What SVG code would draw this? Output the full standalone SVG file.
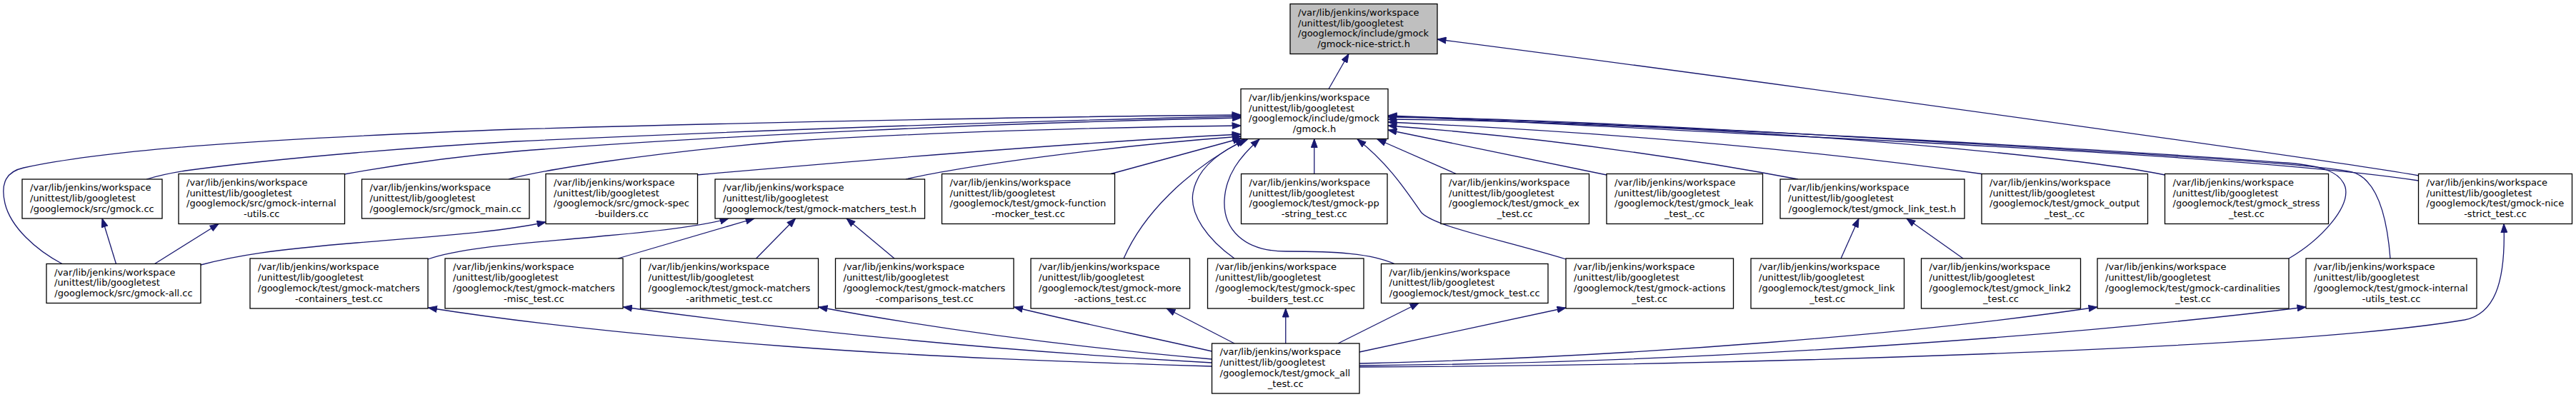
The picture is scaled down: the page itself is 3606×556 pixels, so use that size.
<svg xmlns="http://www.w3.org/2000/svg" width="3606" height="556" viewBox="0 0 3606 556">
<style>
.node rect{fill:#ffffff;stroke:#000000;stroke-width:1.3}
#n0 rect{fill:#bfbfbf}
.node text{font-family:"DejaVu Sans","Liberation Sans",sans-serif;font-size:13px;fill:#000000}
.m{text-anchor:middle}
.e path{fill:none;stroke:#191970;stroke-width:1.3;marker-end:url(#ah)}
</style>
<defs>
<marker id="ah" viewBox="0 0 13 10" refX="12.5" refY="5" markerWidth="13" markerHeight="10" markerUnits="userSpaceOnUse" orient="auto">
<path d="M0.5,0.6 L12.5,5 L0.5,9.4 Z" fill="#191970" stroke="#191970" stroke-width="1"/>
</marker>
</defs>
<rect width="3606" height="556" fill="#ffffff"/>
<g id="edges" class="e">
<path d="M1860,124.5 L1888,75.5"/>
<path d="M3386,246 C3300,230 2500,118 2012,55"/>
<path d="M1839.75,243.5 L1839.75,194.5"/>
<path d="M87,369.5 C50,350 15,318 7,285 C0,255 10,240 33,235 C150,210 350,195 722,181 C1100,170 1500,163 1737,161"/>
<path d="M205,251 C225,245 240,242 260,239 C400,220 600,205 722,198 C1000,185 1400,170 1737,163"/>
<path d="M482,244 C560,230 650,218 722,212 C1000,190 1400,172 1737,165"/>
<path d="M712,251 C760,238 900,215 1100,198 C1300,185 1550,178 1737,176"/>
<path d="M975,245 C1200,225 1500,200 1737,188"/>
<path d="M1268,251 C1350,232 1550,205 1737,191"/>
<path d="M1555,243.5 L1738,193.5"/>
<path d="M1573,362 C1600,300 1660,240 1742,195.5"/>
<path d="M1728,362 C1690,335 1665,300 1670,270 C1675,240 1700,215 1746,195.5"/>
<path d="M1952,369.5 C1920,355 1870,352 1800,352 C1740,352 1712,320 1714,280 C1716,245 1735,220 1763,195"/>
<path d="M2038.5,243.5 L1928,195"/>
<path d="M2192,363 C2100,335 2010,318 1990,298 C1970,270 1945,230 1900,195"/>
<path d="M2249,245 L1943,182"/>
<path d="M2517,251 C2300,210 2100,188 1943,176"/>
<path d="M2774,243.5 C2500,205 2200,183 1943,171"/>
<path d="M3030.5,245 C2950,228 2700,200 2400,183 C2200,172 2050,168 1943,167"/>
<path d="M3385.5,253 C3200,225 2800,205 2500,190 C2200,175 2050,166 1943,163"/>
<path d="M3204,362 C3250,335 3290,290 3283,262 C3276,240 3250,232 3200,228 C2900,205 2300,175 1943,162"/>
<path d="M3346,362 C3342,310 3330,255 3296,242 C3250,228 2900,210 2600,192 C2300,175 2100,165 1943,164"/>
<path d="M162.5,369.5 L143,306"/>
<path d="M216.5,369.5 L306,313.5"/>
<path d="M281,371 C330,358 380,350 500,340 C620,330 700,325 764,311"/>
<path d="M599,363 C650,345 750,340 850,330 C940,322 990,315 1020,306"/>
<path d="M865,362 L1056,306"/>
<path d="M1058.5,362 L1113.5,306"/>
<path d="M1252,362 L1185,306"/>
<path d="M2577,362 L2602,306"/>
<path d="M2748,362 L2669,306"/>
<path d="M1696.5,513 C1500,507 1300,500 1100,485 C900,470 720,450 599.5,431"/>
<path d="M1696.5,508 C1500,497 1200,475 872.5,430"/>
<path d="M1696.5,503 C1550,490 1350,468 1146,430"/>
<path d="M1696.5,492 C1600,470 1500,450 1419.5,430"/>
<path d="M1728,481 L1633,432"/>
<path d="M1799.75,481 L1799.75,432"/>
<path d="M1873,481 L1986,424.5"/>
<path d="M1903,493 L2192,431"/>
<path d="M1903,509 C2300,500 2700,465 2936,430"/>
<path d="M1903,512 C2400,508 2900,470 3228,430"/>
<path d="M1903,514 C2400,512 3200,490 3450,448 C3490,440 3508,400 3505,313.5"/>
</g>
<g id="n0" class="node"><rect x="1806" y="5.5" width="206" height="70"/><text><tspan x="1817" y="21.7">/var/lib/jenkins/workspace</tspan><tspan x="1817" y="36.6">/unittest/lib/googletest</tspan><tspan x="1817" y="51.4">/googlemock/include/gmock</tspan><tspan class="m" x="1909" y="66.3">/gmock-nice-strict.h</tspan></text></g>
<g id="n1" class="node"><rect x="1737" y="124.5" width="206" height="70"/><text><tspan x="1748" y="140.7">/var/lib/jenkins/workspace</tspan><tspan x="1748" y="155.6">/unittest/lib/googletest</tspan><tspan x="1748" y="170.4">/googlemock/include/gmock</tspan><tspan class="m" x="1840" y="185.3">/gmock.h</tspan></text></g>
<g id="n2" class="node"><rect x="31" y="251" width="196" height="55"/><text><tspan x="42" y="267">/var/lib/jenkins/workspace</tspan><tspan x="42" y="281.9">/unittest/lib/googletest</tspan><tspan class="m" x="129" y="296.8">/googlemock/src/gmock.cc</tspan></text></g>
<g id="n3" class="node"><rect x="250" y="243.5" width="232.5" height="70"/><text><tspan x="261" y="259.7">/var/lib/jenkins/workspace</tspan><tspan x="261" y="274.6">/unittest/lib/googletest</tspan><tspan x="261" y="289.4">/googlemock/src/gmock-internal</tspan><tspan class="m" x="366.25" y="304.3">-utils.cc</tspan></text></g>
<g id="n4" class="node"><rect x="506.5" y="251" width="234.5" height="55"/><text><tspan x="517.5" y="267">/var/lib/jenkins/workspace</tspan><tspan x="517.5" y="281.9">/unittest/lib/googletest</tspan><tspan class="m" x="623.75" y="296.8">/googlemock/src/gmock_main.cc</tspan></text></g>
<g id="n5" class="node"><rect x="764" y="243.5" width="212.5" height="70"/><text><tspan x="775" y="259.7">/var/lib/jenkins/workspace</tspan><tspan x="775" y="274.6">/unittest/lib/googletest</tspan><tspan x="775" y="289.4">/googlemock/src/gmock-spec</tspan><tspan class="m" x="870.25" y="304.3">-builders.cc</tspan></text></g>
<g id="n6" class="node"><rect x="1001" y="251" width="293.5" height="55"/><text><tspan x="1012" y="267">/var/lib/jenkins/workspace</tspan><tspan x="1012" y="281.9">/unittest/lib/googletest</tspan><tspan class="m" x="1147.75" y="296.8">/googlemock/test/gmock-matchers_test.h</tspan></text></g>
<g id="n7" class="node"><rect x="1318.5" y="243.5" width="242" height="70"/><text><tspan x="1329.5" y="259.7">/var/lib/jenkins/workspace</tspan><tspan x="1329.5" y="274.6">/unittest/lib/googletest</tspan><tspan x="1329.5" y="289.4">/googlemock/test/gmock-function</tspan><tspan class="m" x="1439.5" y="304.3">-mocker_test.cc</tspan></text></g>
<g id="n8" class="node"><rect x="1737.5" y="243.5" width="204.5" height="70"/><text><tspan x="1748.5" y="259.7">/var/lib/jenkins/workspace</tspan><tspan x="1748.5" y="274.6">/unittest/lib/googletest</tspan><tspan x="1748.5" y="289.4">/googlemock/test/gmock-pp</tspan><tspan class="m" x="1839.75" y="304.3">-string_test.cc</tspan></text></g>
<g id="n9" class="node"><rect x="2017" y="243.5" width="207.5" height="70"/><text><tspan x="2028" y="259.7">/var/lib/jenkins/workspace</tspan><tspan x="2028" y="274.6">/unittest/lib/googletest</tspan><tspan x="2028" y="289.4">/googlemock/test/gmock_ex</tspan><tspan class="m" x="2120.75" y="304.3">_test.cc</tspan></text></g>
<g id="n10" class="node"><rect x="2249" y="243.5" width="218.5" height="70"/><text><tspan x="2260" y="259.7">/var/lib/jenkins/workspace</tspan><tspan x="2260" y="274.6">/unittest/lib/googletest</tspan><tspan x="2260" y="289.4">/googlemock/test/gmock_leak</tspan><tspan class="m" x="2358.25" y="304.3">_test_.cc</tspan></text></g>
<g id="n11" class="node"><rect x="2492" y="251" width="258" height="55"/><text><tspan x="2503" y="267">/var/lib/jenkins/workspace</tspan><tspan x="2503" y="281.9">/unittest/lib/googletest</tspan><tspan class="m" x="2621" y="296.8">/googlemock/test/gmock_link_test.h</tspan></text></g>
<g id="n12" class="node"><rect x="2774" y="243.5" width="232.5" height="70"/><text><tspan x="2785" y="259.7">/var/lib/jenkins/workspace</tspan><tspan x="2785" y="274.6">/unittest/lib/googletest</tspan><tspan x="2785" y="289.4">/googlemock/test/gmock_output</tspan><tspan class="m" x="2890.25" y="304.3">_test_.cc</tspan></text></g>
<g id="n13" class="node"><rect x="3030.5" y="243.5" width="229" height="70"/><text><tspan x="3041.5" y="259.7">/var/lib/jenkins/workspace</tspan><tspan x="3041.5" y="274.6">/unittest/lib/googletest</tspan><tspan x="3041.5" y="289.4">/googlemock/test/gmock_stress</tspan><tspan class="m" x="3145" y="304.3">_test.cc</tspan></text></g>
<g id="n14" class="node"><rect x="3385.5" y="243.5" width="215" height="70"/><text><tspan x="3396.5" y="259.7">/var/lib/jenkins/workspace</tspan><tspan x="3396.5" y="274.6">/unittest/lib/googletest</tspan><tspan x="3396.5" y="289.4">/googlemock/test/gmock-nice</tspan><tspan class="m" x="3493" y="304.3">-strict_test.cc</tspan></text></g>
<g id="n15" class="node"><rect x="65" y="369.5" width="216" height="55"/><text><tspan x="76" y="385.5">/var/lib/jenkins/workspace</tspan><tspan x="76" y="400.4">/unittest/lib/googletest</tspan><tspan class="m" x="173" y="415.3">/googlemock/src/gmock-all.cc</tspan></text></g>
<g id="n16" class="node"><rect x="350" y="362" width="249" height="70"/><text><tspan x="361" y="378.2">/var/lib/jenkins/workspace</tspan><tspan x="361" y="393.1">/unittest/lib/googletest</tspan><tspan x="361" y="407.9">/googlemock/test/gmock-matchers</tspan><tspan class="m" x="474.5" y="422.8">-containers_test.cc</tspan></text></g>
<g id="n17" class="node"><rect x="623" y="362" width="249" height="70"/><text><tspan x="634" y="378.2">/var/lib/jenkins/workspace</tspan><tspan x="634" y="393.1">/unittest/lib/googletest</tspan><tspan x="634" y="407.9">/googlemock/test/gmock-matchers</tspan><tspan class="m" x="747.5" y="422.8">-misc_test.cc</tspan></text></g>
<g id="n18" class="node"><rect x="896.5" y="362" width="249" height="70"/><text><tspan x="907.5" y="378.2">/var/lib/jenkins/workspace</tspan><tspan x="907.5" y="393.1">/unittest/lib/googletest</tspan><tspan x="907.5" y="407.9">/googlemock/test/gmock-matchers</tspan><tspan class="m" x="1021" y="422.8">-arithmetic_test.cc</tspan></text></g>
<g id="n19" class="node"><rect x="1169.5" y="362" width="249.5" height="70"/><text><tspan x="1180.5" y="378.2">/var/lib/jenkins/workspace</tspan><tspan x="1180.5" y="393.1">/unittest/lib/googletest</tspan><tspan x="1180.5" y="407.9">/googlemock/test/gmock-matchers</tspan><tspan class="m" x="1294.25" y="422.8">-comparisons_test.cc</tspan></text></g>
<g id="n20" class="node"><rect x="1443" y="362" width="222.5" height="70"/><text><tspan x="1454" y="378.2">/var/lib/jenkins/workspace</tspan><tspan x="1454" y="393.1">/unittest/lib/googletest</tspan><tspan x="1454" y="407.9">/googlemock/test/gmock-more</tspan><tspan class="m" x="1554.25" y="422.8">-actions_test.cc</tspan></text></g>
<g id="n21" class="node"><rect x="1690.5" y="362" width="218.5" height="70"/><text><tspan x="1701.5" y="378.2">/var/lib/jenkins/workspace</tspan><tspan x="1701.5" y="393.1">/unittest/lib/googletest</tspan><tspan x="1701.5" y="407.9">/googlemock/test/gmock-spec</tspan><tspan class="m" x="1799.75" y="422.8">-builders_test.cc</tspan></text></g>
<g id="n22" class="node"><rect x="1933.5" y="369.5" width="233.5" height="55"/><text><tspan x="1944.5" y="385.5">/var/lib/jenkins/workspace</tspan><tspan x="1944.5" y="400.4">/unittest/lib/googletest</tspan><tspan class="m" x="2050.25" y="415.3">/googlemock/test/gmock_test.cc</tspan></text></g>
<g id="n23" class="node"><rect x="2192" y="362" width="234.5" height="70"/><text><tspan x="2203" y="378.2">/var/lib/jenkins/workspace</tspan><tspan x="2203" y="393.1">/unittest/lib/googletest</tspan><tspan x="2203" y="407.9">/googlemock/test/gmock-actions</tspan><tspan class="m" x="2309.25" y="422.8">_test.cc</tspan></text></g>
<g id="n24" class="node"><rect x="2451" y="362" width="214.5" height="70"/><text><tspan x="2462" y="378.2">/var/lib/jenkins/workspace</tspan><tspan x="2462" y="393.1">/unittest/lib/googletest</tspan><tspan x="2462" y="407.9">/googlemock/test/gmock_link</tspan><tspan class="m" x="2558.25" y="422.8">_test.cc</tspan></text></g>
<g id="n25" class="node"><rect x="2689.5" y="362" width="223" height="70"/><text><tspan x="2700.5" y="378.2">/var/lib/jenkins/workspace</tspan><tspan x="2700.5" y="393.1">/unittest/lib/googletest</tspan><tspan x="2700.5" y="407.9">/googlemock/test/gmock_link2</tspan><tspan class="m" x="2801" y="422.8">_test.cc</tspan></text></g>
<g id="n26" class="node"><rect x="2936" y="362" width="268" height="70"/><text><tspan x="2947" y="378.2">/var/lib/jenkins/workspace</tspan><tspan x="2947" y="393.1">/unittest/lib/googletest</tspan><tspan x="2947" y="407.9">/googlemock/test/gmock-cardinalities</tspan><tspan class="m" x="3070" y="422.8">_test.cc</tspan></text></g>
<g id="n27" class="node"><rect x="3228" y="362" width="239" height="70"/><text><tspan x="3239" y="378.2">/var/lib/jenkins/workspace</tspan><tspan x="3239" y="393.1">/unittest/lib/googletest</tspan><tspan x="3239" y="407.9">/googlemock/test/gmock-internal</tspan><tspan class="m" x="3347.5" y="422.8">-utils_test.cc</tspan></text></g>
<g id="n28" class="node"><rect x="1696.5" y="481" width="206.5" height="70"/><text><tspan x="1707.5" y="497.2">/var/lib/jenkins/workspace</tspan><tspan x="1707.5" y="512.1">/unittest/lib/googletest</tspan><tspan x="1707.5" y="526.9">/googlemock/test/gmock_all</tspan><tspan class="m" x="1799.75" y="541.8">_test.cc</tspan></text></g>
</svg>
